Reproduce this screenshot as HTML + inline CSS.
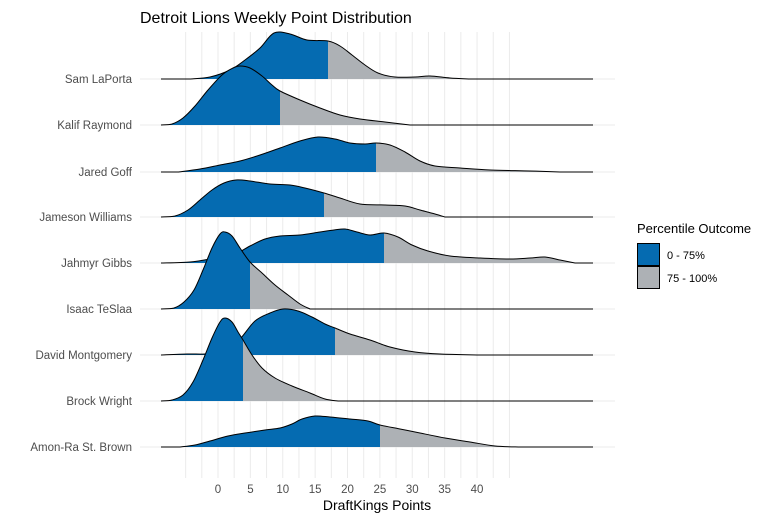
<!DOCTYPE html>
<html><head><meta charset="utf-8"><style>
body{margin:0;background:#fff;}
svg{display:block;font-family:"Liberation Sans",sans-serif;}
</style></head><body>
<svg id="s" width="781" height="520" viewBox="0 0 781 520" xmlns="http://www.w3.org/2000/svg">
<rect width="781" height="520" fill="#fff"/>
<g id="grid" stroke="#ebebeb" stroke-width="1"></g>
<g id="ridges"></g>
<text x="140" y="23" font-size="16" fill="#000">Detroit Lions Weekly Point Distribution</text>
<g font-size="11.5" fill="#4d4d4d" text-anchor="end">
<text x="132" y="83">Sam LaPorta</text>
<text x="132" y="129">Kalif Raymond</text>
<text x="132" y="176">Jared Goff</text>
<text x="132" y="221">Jameson Williams</text>
<text x="132" y="267">Jahmyr Gibbs</text>
<text x="132" y="313">Isaac TeSlaa</text>
<text x="132" y="359">David Montgomery</text>
<text x="132" y="405">Brock Wright</text>
<text x="132" y="451">Amon-Ra St. Brown</text>
</g>
<g font-size="11.5" fill="#4d4d4d" text-anchor="middle">
<text x="218" y="493">0</text><text x="250.4" y="493">5</text><text x="282.8" y="493">10</text>
<text x="315.1" y="493">15</text><text x="347.5" y="493">20</text><text x="379.9" y="493">25</text>
<text x="412.3" y="493">30</text><text x="444.6" y="493">35</text><text x="477" y="493">40</text>
</g>
<text x="377" y="510" font-size="14" text-anchor="middle" fill="#000">DraftKings Points</text>
<text x="637" y="233" font-size="13" fill="#000">Percentile Outcome</text>
<rect x="637.5" y="243.5" width="22" height="22" fill="#056bb1" stroke="#000"/>
<rect x="637.5" y="266.5" width="22" height="22" fill="#adb1b5" stroke="#000"/>
<text x="667" y="259" font-size="11" fill="#000">0 - 75%</text>
<text x="667" y="282" font-size="11" fill="#000">75 - 100%</text>
</svg>
<script>
const NS="http://www.w3.org/2000/svg";
const grid=document.getElementById('grid');
for(let i=-2;i<=18;i++){const x=218+i*16.19;const l=document.createElementNS(NS,'line');
l.setAttribute('x1',x);l.setAttribute('x2',x);l.setAttribute('y1',32);l.setAttribute('y2',478);grid.appendChild(l);}
[79,125,172,217,263,309,355,401,447].forEach(y=>{const l=document.createElementNS(NS,'line');
l.setAttribute('x1',140);l.setAttribute('x2',615);l.setAttribute('y1',y);l.setAttribute('y2',y);grid.appendChild(l);});
const R=[
[79,328,[[190,79],[210,77],[230,70],[245,60],[260,48],[274,33],[290,34],[307,40],[328,41],[340,46],[352,55],[365,65],[378,73],[395,77],[415,77],[430,76],[450,78],[470,79]]],
[125,280,[[161,125],[172,124],[183,118],[195,106],[208,90],[222,75],[233,68],[240,66],[250,68],[262,76],[272,85],[280,91],[300,100],[320,108],[340,115],[360,119],[385,122],[410,125]]],
[172,376,[[178,172],[200,169],[220,165],[240,161],[260,155],[280,148],[300,141],[318,137],[335,139],[350,143],[365,144],[376,143],[390,145],[405,152],[420,161],[435,166],[460,168],[490,170],[530,171],[560,172]]],
[217,324,[[161,217],[175,216],[188,210],[200,200],[212,190],[224,183],[236,180],[250,181],[270,184],[290,185],[305,188],[324,193],[340,198],[360,204],[385,205],[405,206],[420,210],[435,214],[445,217]]],
[263,384,[[161,263],[190,262],[215,258],[235,254],[250,246],[265,239],[280,236],[300,235],[320,232],[334,230],[345,229],[357,232],[370,235],[384,233],[398,237],[412,245],[428,251],[450,256],[480,258],[510,259],[530,258],[545,257],[560,260],[575,263]]],
[309,250,[[161,309],[174,308],[184,302],[194,290],[203,270],[212,248],[220,234],[225,232],[232,236],[240,248],[250,262],[262,273],[275,285],[288,295],[300,304],[310,309]]],
[355,335,[[161,355],[187,354],[205,354],[225,352],[240,339],[255,321],[270,313],[283,309],[298,311],[312,317],[325,324],[335,328],[350,334],[370,340],[390,347],[415,352],[440,354],[480,355]]],
[401,243,[[161,401],[172,400],[183,395],[193,382],[203,360],[212,338],[220,322],[225,318],[232,322],[238,332],[243,340],[252,355],[262,368],[275,378],[292,386],[310,393],[325,399],[338,401]]],
[447,380,[[180,447],[195,445],[210,441],[228,436],[245,433],[265,430],[280,428],[292,424],[302,419],[315,416],[330,417],[350,419],[368,421],[380,425],[400,429],[420,433],[445,438],[470,442],[495,446],[520,447]]]
];
function smooth(p,b){let d='M161,'+b+' L'+p[0][0]+','+p[0][1];
for(let i=0;i<p.length-1;i++){const p0=p[Math.max(0,i-1)],p1=p[i],p2=p[i+1],p3=p[Math.min(p.length-1,i+2)];
let c1=[p1[0]+(p2[0]-p0[0])/6,p1[1]+(p2[1]-p0[1])/6],c2=[p2[0]-(p3[0]-p1[0])/6,p2[1]-(p3[1]-p1[1])/6];
c1[1]=Math.min(c1[1],b);c2[1]=Math.min(c2[1],b);
d+=' C'+c1+' '+c2+' '+p2;}d+=' L593,'+b;return d;}
const g=document.getElementById('ridges');const defs=document.createElementNS(NS,'defs');g.appendChild(defs);
R.forEach((r,i)=>{const [b,cut,pts]=r;const line=smooth(pts,b);const area=line+' L161,'+b+' Z';
['L','G'].forEach(k=>{const cp=document.createElementNS(NS,'clipPath');cp.id='c'+k+i;const rc=document.createElementNS(NS,'rect');
if(k=='L'){rc.setAttribute('x',0);rc.setAttribute('width',cut);}else{rc.setAttribute('x',cut);rc.setAttribute('width',781);}
rc.setAttribute('y',0);rc.setAttribute('height',520);cp.appendChild(rc);defs.appendChild(cp);
const pa=document.createElementNS(NS,'path');pa.setAttribute('d',area);pa.setAttribute('fill',k=='L'?'#056bb1':'#adb1b5');
pa.setAttribute('clip-path','url(#c'+k+i+')');g.appendChild(pa);});
const l=document.createElementNS(NS,'path');l.setAttribute('d',line);l.setAttribute('fill','none');l.setAttribute('stroke','#000');l.setAttribute('stroke-width','1');g.appendChild(l);});
</script>
</body></html>
